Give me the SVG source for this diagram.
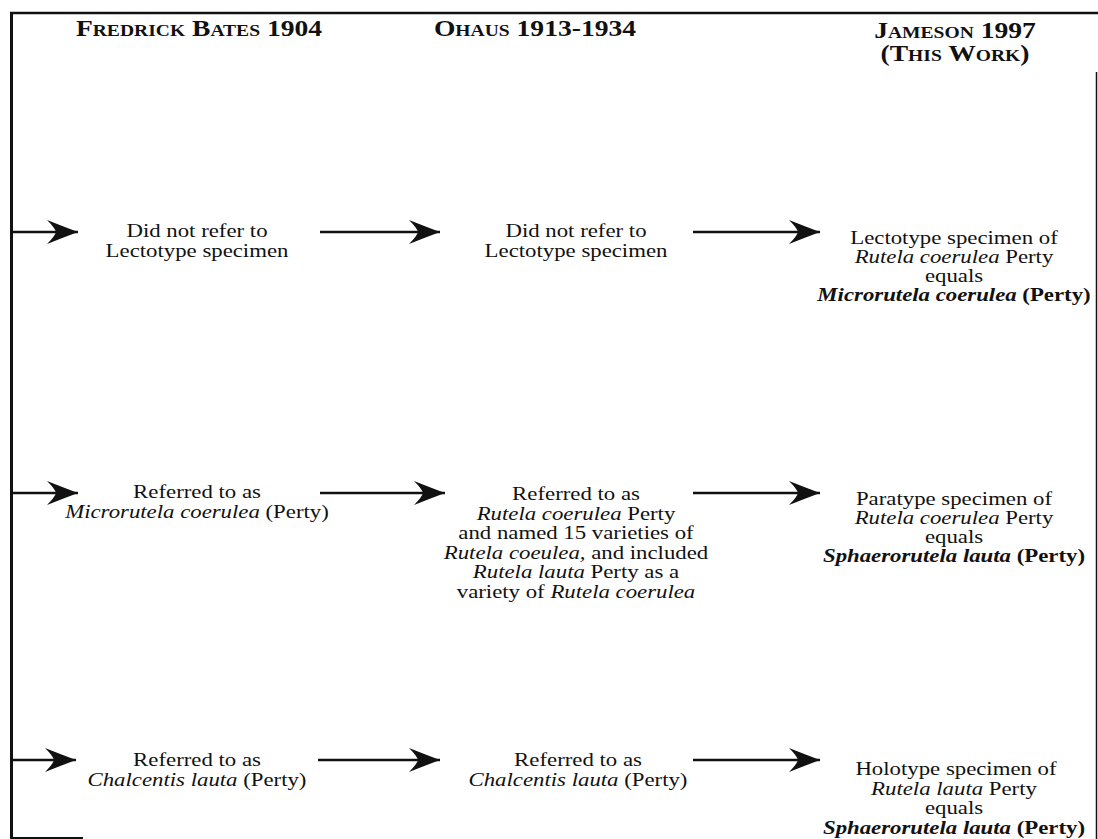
<svg xmlns="http://www.w3.org/2000/svg" width="1098" height="839" viewBox="0 0 1098 839">
<style>
text{font-family:"Liberation Serif","Times New Roman",serif;font-size:19px;fill:#111;text-anchor:middle}
.h{font-size:23px;font-weight:bold;font-variant:small-caps}
.i{font-style:italic}
.b{font-weight:bold}
.bi{font-weight:bold;font-style:italic}
.frame{stroke:#111;fill:none}
.conn line{stroke:#111;stroke-width:2.5;marker-end:url(#ah)}
</style>
<defs>
<marker id="ah" markerUnits="userSpaceOnUse" markerWidth="34" markerHeight="26" viewBox="0 0 34 26" refX="32" refY="13" orient="auto">
<path d="M32,13 Q16,7 1,1 Q9,9 10,13 Q9,17 1,25 Q16,19 32,13 Z" fill="#111"/>
</marker>
</defs>
<rect width="1098" height="839" fill="#fff"/>
<g id="frame">
<line class="frame" x1="10" y1="13" x2="1098" y2="13" stroke-width="2.5"/>
<line class="frame" x1="11.5" y1="12" x2="11.5" y2="839" stroke-width="3"/>
<line class="frame" x1="1096.5" y1="72" x2="1096.5" y2="839" stroke-width="1.5"/>
<line class="frame" x1="10" y1="838" x2="83" y2="838" stroke-width="2"/>
</g>
<g id="headers">
<text class="h" transform="translate(199,36) scale(1.2,1)">Fredrick Bates 1904</text>
<text class="h" transform="translate(535,36) scale(1.2,1)">Ohaus 1913-1934</text>
<text class="h" transform="translate(955,38) scale(1.2,1)">Jameson 1997</text>
<text class="h" transform="translate(955,61) scale(1.2,1)">(This Work)</text>
</g>
<g id="r1c1">
<text transform="translate(197,237) scale(1.2,1)">Did not refer to</text>
<text transform="translate(197,257) scale(1.2,1)">Lectotype specimen</text>
</g>
<g id="r1c2">
<text transform="translate(576,237) scale(1.2,1)">Did not refer to</text>
<text transform="translate(576,257) scale(1.2,1)">Lectotype specimen</text>
</g>
<g id="r1c3">
<text transform="translate(954,244) scale(1.2,1)">Lectotype specimen of</text>
<text transform="translate(954,263) scale(1.2,1)"><tspan class="i">Rutela coerulea</tspan> Perty</text>
<text transform="translate(954,282) scale(1.2,1)">equals</text>
<text transform="translate(954,301) scale(1.2,1)"><tspan class="bi">Microrutela coerulea</tspan> <tspan class="b">(Perty)</tspan></text>
</g>
<g id="r2c1">
<text transform="translate(197,498) scale(1.2,1)">Referred to as</text>
<text transform="translate(197,518) scale(1.2,1)"><tspan class="i">Microrutela coerulea</tspan> (Perty)</text>
</g>
<g id="r2c2">
<text transform="translate(576,500) scale(1.2,1)">Referred to as</text>
<text transform="translate(576,519.6) scale(1.2,1)"><tspan class="i">Rutela coerulea</tspan> Perty</text>
<text transform="translate(576,539.2) scale(1.2,1)">and named 15 varieties of</text>
<text transform="translate(576,558.8) scale(1.2,1)"><tspan class="i">Rutela coeulea,</tspan> and included</text>
<text transform="translate(576,578.4) scale(1.2,1)"><tspan class="i">Rutela lauta</tspan> Perty as a</text>
<text transform="translate(576,598) scale(1.2,1)">variety of <tspan class="i">Rutela coerulea</tspan></text>
</g>
<g id="r2c3">
<text transform="translate(954,505) scale(1.2,1)">Paratype specimen of</text>
<text transform="translate(954,524) scale(1.2,1)"><tspan class="i">Rutela coerulea</tspan> Perty</text>
<text transform="translate(954,543) scale(1.2,1)">equals</text>
<text transform="translate(954,562) scale(1.2,1)"><tspan class="bi">Sphaerorutela lauta</tspan> <tspan class="b">(Perty)</tspan></text>
</g>
<g id="r3c1">
<text transform="translate(197,766) scale(1.2,1)">Referred to as</text>
<text transform="translate(197,786) scale(1.2,1)"><tspan class="i">Chalcentis lauta</tspan> (Perty)</text>
</g>
<g id="r3c2">
<text transform="translate(578,766) scale(1.2,1)">Referred to as</text>
<text transform="translate(578,786) scale(1.2,1)"><tspan class="i">Chalcentis lauta</tspan> (Perty)</text>
</g>
<g id="r3c3">
<text transform="translate(956,775) scale(1.2,1)">Holotype specimen of</text>
<text transform="translate(954,794.5) scale(1.2,1)"><tspan class="i">Rutela lauta</tspan> Perty</text>
<text transform="translate(954,814) scale(1.2,1)">equals</text>
<text transform="translate(954,833.5) scale(1.2,1)"><tspan class="bi">Sphaerorutela lauta</tspan> <tspan class="b">(Perty)</tspan></text>
</g>
<g id="connectors" class="conn">
<line x1="11" y1="232" x2="78" y2="232"/>
<line x1="320" y1="232" x2="440" y2="232"/>
<line x1="693" y1="232" x2="820" y2="232"/>
<line x1="11" y1="493" x2="78" y2="493"/>
<line x1="320" y1="493" x2="445" y2="493"/>
<line x1="693" y1="493" x2="820" y2="493"/>
<line x1="11" y1="760" x2="76" y2="760"/>
<line x1="318" y1="760" x2="440" y2="760"/>
<line x1="693" y1="760" x2="820" y2="760"/>
</g>
</svg>
